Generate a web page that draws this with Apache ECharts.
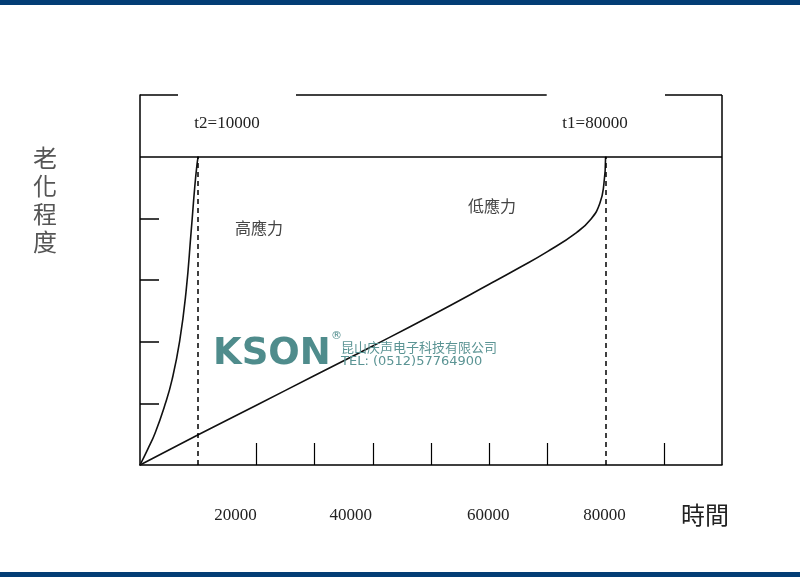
<!DOCTYPE html>
<html>
<head>
<meta charset="utf-8">
<script src="https://cdn.jsdelivr.net/npm/echarts@6/dist/echarts.min.js"></script>
<style>html,body{margin:0;padding:0;background:#fff;}#main{width:800px;height:577px;}</style>
</head>
<body>
<div id="main"></div>
<script>
// ---- data ----
const xMax = 100000;
const yMax = 6;
const failLevel = 5;
const t2 = 10000;   // high stress life
const t1 = 80000;   // low stress life
const xTickValues = [20000, 30000, 40000, 50000, 60000, 70000, 90000];
const xLabelValues = [20000, 40000, 60000, 80000];
const yTickValues = [1, 2, 3, 4];
const highStressX = [0, 1300, 2600, 4300, 5500, 6800, 7900, 8800, 9400, 9800, 10000];
const highStressY = [0, 0.25, 0.52, 0.98, 1.38, 2.0, 2.8, 3.8, 4.5, 4.88, 5.0];
const lowStressX = [0, 10000, 20000, 30000, 40000, 50000, 60000, 65000, 70000, 75000, 77500, 79000, 79700, 80000];
const lowStressY = [0, 0.49, 0.97, 1.45, 1.93, 2.42, 2.93, 3.19, 3.46, 3.77, 3.99, 4.24, 4.55, 5.0];
const topFrameSegments = [[0, 6530], [26800, 69880], [90200, 100000]];
const labels = { t2: 't2=10000', t1: 't1=80000', high: '高應力', low: '低應力', yTitle: '老化程度', xTitle: '時間' };

// ---- chart ----
const chart = echarts.init(document.getElementById('main'), null, { renderer: 'canvas' });
const zip = (xs, ys) => xs.map((x, i) => [x, ys[i]]);
const labelShift = { 20000: -21, 40000: -22, 60000: -1, 80000: -1 };
const rich = {};
xLabelValues.forEach(v => {
  const s = labelShift[v] || 0;
  rich['l' + v] = { fontFamily: 'Liberation Serif', fontSize: 17, color: '#222', padding: [0, -2 * s, 0, 0] };
});
const solid = { color: '#000', width: 1.5, type: 'solid' };
const frameLines = topFrameSegments.map(s => [{ coord: [s[0], yMax] }, { coord: [s[1], yMax] }]);
frameLines.push([{ coord: [0, failLevel] }, { coord: [xMax, failLevel] }]);
frameLines.push([{ coord: [xMax, 0] }, { coord: [xMax, yMax] }]);
const dashLines = [t2, t1].map(t => [{ coord: [t, 0] }, { coord: [t, failLevel] }]);

const option = {
  animation: false,
  grid: { left: 140, right: 78, top: 95, bottom: 112 },
  xAxis: {
    type: 'value', min: 0, max: xMax, interval: 10000,
    axisLine: { show: true, onZero: false, lineStyle: solid },
    axisTick: { show: true, inside: true, length: 22, customValues: xTickValues, lineStyle: { color: '#000', width: 1.2 } },
    axisLabel: {
      customValues: xLabelValues, margin: 42,
      formatter: v => '{l' + v + '|' + v + '}', rich: rich
    },
    splitLine: { show: false }
  },
  yAxis: {
    type: 'value', min: 0, max: yMax, interval: 1,
    axisLine: { show: true, onZero: false, lineStyle: solid },
    axisTick: { show: true, inside: true, length: 19, customValues: yTickValues, lineStyle: { color: '#000', width: 1.5 } },
    axisLabel: { show: false },
    splitLine: { show: false }
  },
  series: [
    {
      type: 'line', data: zip(highStressX, highStressY), smooth: 0.5, showSymbol: false,
      lineStyle: { color: '#111', width: 1.6 }, silent: true
    },
    {
      type: 'line', data: zip(lowStressX, lowStressY), smooth: 0.5, showSymbol: false,
      lineStyle: { color: '#111', width: 1.6 }, silent: true
    },
    {
      type: 'line', data: [], silent: true,
      markLine: { symbol: 'none', silent: true, label: { show: false }, lineStyle: { color: '#000', width: 1.5, type: 'solid' }, data: frameLines }
    },
    {
      type: 'line', data: [], silent: true,
      markLine: { symbol: 'none', silent: true, label: { show: false }, lineStyle: { color: '#000', width: 1.5, type: [5, 4] }, data: dashLines }
    }
  ],
  graphic: [
    { type: 'rect', shape: { x: 0, y: 0, width: 800, height: 5 }, style: { fill: '#033d75' } },
    { type: 'rect', shape: { x: 0, y: 572, width: 800, height: 5 }, style: { fill: '#033d75' } },
    { type: 'text', x: 227, y: 124, style: { text: labels.t2, font: '17px "Liberation Serif"', fill: '#222', align: 'center', verticalAlign: 'middle' } },
    { type: 'text', x: 595, y: 124, style: { text: labels.t1, font: '17px "Liberation Serif"', fill: '#222', align: 'center', verticalAlign: 'middle' } },
    { type: 'text', x: 259, y: 228, style: { text: labels.high, font: '16px "Noto Sans CJK TC"', fill: '#444', align: 'center', verticalAlign: 'middle' } },
    { type: 'text', x: 492, y: 206, style: { text: labels.low, font: '16px "Noto Sans CJK TC"', fill: '#444', align: 'center', verticalAlign: 'middle' } },
    { type: 'text', x: 45, y: 200, style: { text: labels.yTitle.split('').join('\n'), font: '24px "Noto Sans CJK TC"', lineHeight: 28, fill: '#555', align: 'center', verticalAlign: 'middle' } },
    { type: 'text', x: 705, y: 515, style: { text: labels.xTitle, font: '24px "Noto Sans CJK TC"', fill: '#222', align: 'center', verticalAlign: 'middle' } },
    { type: 'text', x: 213, y: 354, z: 100, style: { text: 'KSON', font: 'bold 37px "DejaVu Sans"', fill: '#4f8c8c', align: 'left', verticalAlign: 'middle' } },
    { type: 'text', x: 331, y: 336, z: 100, style: { text: '®', font: '11px "DejaVu Sans"', fill: '#4f8c8c', align: 'left', verticalAlign: 'middle' } },
    { type: 'text', x: 341, y: 347, z: 100, style: { text: '昆山庆声电子科技有限公司', font: '13px "Noto Sans CJK SC"', fill: '#5b9494', align: 'left', verticalAlign: 'middle' } },
    { type: 'text', x: 341, y: 362, z: 100, style: { text: 'TEL: (0512)57764900', font: '13px "DejaVu Sans"', fill: '#5b9494', align: 'left', verticalAlign: 'middle' } }
  ]
};
chart.setOption(option);
</script>
</body>
</html>
